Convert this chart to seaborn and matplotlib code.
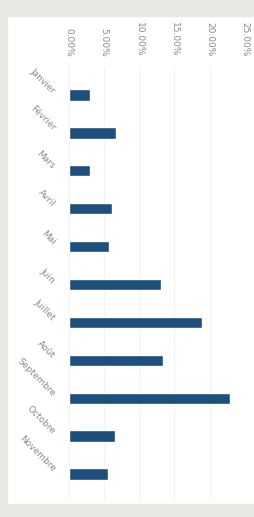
import matplotlib
matplotlib.use("Agg")
import matplotlib.pyplot as plt
import seaborn as sns
import pandas as pd
from matplotlib.patches import Rectangle
from matplotlib.ticker import FuncFormatter

months = ["Janvier", "Février", "Mars", "Avril", "Mai", "Juin", "Juillet",
          "Août", "Septembre", "Octobre", "Novembre"]
values = [3.0, 6.7, 3.0, 6.1, 5.8, 13.1, 18.9, 13.4, 22.9, 6.6, 5.6]
ticks = [0, 5, 10, 15, 20, 25]

df = pd.DataFrame({"mois": months, "pct": values})

sns.set_theme(style="white")
plt.rcParams['font.family'] = ['DejaVu Sans']

W, H = 254, 517
fig = plt.figure(figsize=(W / 100, H / 100), dpi=100)
fig.patch.set_facecolor("white")

# paper-like border
border = "#e9e9e4"
fig.add_artist(Rectangle((0, 1 - 16 / H), 1, 16 / H, transform=fig.transFigure, color=border, zorder=0))
fig.add_artist(Rectangle((0, 0), 7 / W, 1, transform=fig.transFigure, color=border, zorder=0))
fig.add_artist(Rectangle((0, 0), 1, 13 / H, transform=fig.transFigure, color=border, zorder=0))

left, right = 68.5, 245
top, bottom = 66, 500
ax = fig.add_axes([left / W, 1 - bottom / H, (right - left) / W, (bottom - top) / H])
ax.set_facecolor("none")

sns.barplot(data=df, x="pct", y="mois", orient="h", color="#1d4f7c",
            width=0.3, saturation=1, ax=ax)

span = (bottom - top) / 37.9
ax.set_ylim(-0.765 + span, -0.765)
ax.set_xlim(0, 25)
ax.set_xticks(ticks)
ax.xaxis.set_major_formatter(FuncFormatter(lambda v, p: f"{v:.2f}%"))
ax.xaxis.tick_top()
ax.grid(axis="x", color="#f3f3f3", linewidth=0.8)
ax.set_axisbelow(True)
for s in ax.spines.values():
    s.set_visible(False)
ax.tick_params(axis="both", length=0, colors="#8a8a8a", labelsize=6.5)
ax.tick_params(axis="x", pad=7)
ax.tick_params(axis="y", pad=13)
for lab in ax.get_xticklabels():
    lab.set_rotation(-90)
    lab.set_va("bottom")
    lab.set_ha("center")
for lab in ax.get_yticklabels():
    lab.set_rotation(-45)
    lab.set_ha("right")
    lab.set_va("bottom")
    lab.set_rotation_mode("anchor")
ax.set_xlabel("")
ax.set_ylabel("")

fig.savefig("out.png", dpi=100, facecolor=fig.get_facecolor())
